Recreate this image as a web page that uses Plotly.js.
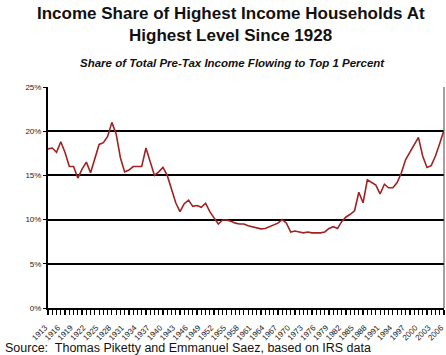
<!DOCTYPE html>
<html>
<head>
<meta charset="utf-8">
<script src="https://cdn.plot.ly/plotly-3.0.1.min.js"></script>
<style>html,body{margin:0;padding:0;background:#fff;}#chart{width:446px;height:355px;}</style>
</head>
<body>
<div id="chart"></div>
<script>
var years = [];
for (var yr = 1913; yr <= 2006; yr++) years.push(yr);

var topShare = [
  18.0, 18.1, 17.6, 18.8, 17.6, 16.0, 16.0, 14.7, 15.7, 16.5,
  15.3, 17.0, 18.5, 18.7, 19.4, 21.0, 19.7, 17.0, 15.4, 15.6,
  16.0, 16.0, 16.0, 18.1, 16.6, 15.0, 15.4, 15.9, 15.0, 13.4,
  11.9, 10.9, 11.8, 12.2, 11.5, 11.6, 11.4, 11.85, 10.9, 10.2,
  9.5, 9.95, 9.95, 9.8, 9.6, 9.5, 9.5, 9.3, 9.2, 9.05,
  8.95, 9.0, 9.2, 9.4, 9.6, 10.0, 9.6, 8.6, 8.7, 8.6,
  8.5, 8.6, 8.5, 8.5, 8.5, 8.6, 9.0, 9.2, 9.0, 9.8,
  10.3, 10.6, 11.0, 13.1, 11.9, 14.5, 14.2, 13.9, 12.9, 14.0,
  13.6, 13.6, 14.2, 15.3, 16.8, 17.6, 18.5, 19.3, 17.2, 15.9,
  16.1, 17.2, 18.6, 20.1
];

var tickLabels = years.map(function (y) { return ((y - 1913) % 3 === 0) ? String(y) : ''; });

var titleLine1 = 'Income Share of Highest Income Households At';
var titleLine2 = 'Highest Level Since 1928';
var subtitle = 'Share of Total Pre-Tax Income Flowing to Top 1 Percent';
var source = 'Source:  Thomas Piketty and Emmanuel Saez, based on IRS data';

var trace = {
  x: years, y: topShare, type: 'scatter', mode: 'lines',
  line: {color: '#a02222', width: 1.6},
  hoverinfo: 'x+y'
};

var narrow = '"Liberation Sans Narrow", "Arial Narrow", Arial, sans-serif';
var arial = 'Arial, "Liberation Sans", sans-serif';

var layout = {
  width: 446, height: 355,
  margin: {l: 48, r: 2, t: 87, b: 47},
  paper_bgcolor: '#fff', plot_bgcolor: '#fff',
  showlegend: false,
  xaxis: {
    type: 'linear', range: [1912.995, 2006.005],
    tickmode: 'array', tickvals: years, ticktext: tickLabels,
    tickangle: -45, ticks: 'outside', ticklen: 5, tickwidth: 1.2, tickcolor: '#000',
    ticklabelstandoff: 5, ticklabelshift: -3, ticklabeloverflow: 'allow',
    tickfont: {family: arial, size: 8, color: '#222'},
    showgrid: false, zeroline: false,
    showline: true, linecolor: '#000', linewidth: 2
  },
  yaxis: {
    range: [0, 25], dtick: 5, tickmode: 'linear', tick0: 0,
    ticksuffix: '%', ticks: 'outside', ticklen: 3, tickcolor: '#000',
    tickfont: {family: arial, size: 8, color: '#222'},
    showgrid: true, gridcolor: '#000', gridwidth: 2,
    zeroline: false, showline: true, linecolor: '#000', linewidth: 2
  },
  shapes: [
    {type: 'line', xref: 'paper', yref: 'paper', x0: 1, x1: 1, y0: 0, y1: 1,
     line: {color: '#444', width: 1}}
  ],
  annotations: [
    {text: '<b>' + titleLine1 + '</b>', xref: 'paper', yref: 'paper',
     x: 0.462, y: (308 - 13) / 221, xanchor: 'center', yanchor: 'middle', showarrow: false,
     font: {family: narrow, size: 17, color: '#111'}},
    {text: '<b>' + titleLine2 + '</b>', xref: 'paper', yref: 'paper',
     x: 0.462, y: (308 - 36) / 221, xanchor: 'center', yanchor: 'middle', showarrow: false,
     font: {family: narrow, size: 17, color: '#111'}},
    {text: '<b><i>' + subtitle + '</i></b>', xref: 'paper', yref: 'paper',
     x: 0.465, y: (308 - 63) / 221, xanchor: 'center', yanchor: 'middle', showarrow: false,
     font: {family: arial, size: 11.5, color: '#111'}},
    {text: source, xref: 'paper', yref: 'paper',
     x: -0.114, y: (308 - 348) / 221, xanchor: 'left', yanchor: 'middle', showarrow: false,
     font: {family: arial, size: 12.5, color: '#111'}}
  ]
};

Plotly.newPlot('chart', [trace], layout, {displayModeBar: false, staticPlot: true});
</script>
</body>
</html>
